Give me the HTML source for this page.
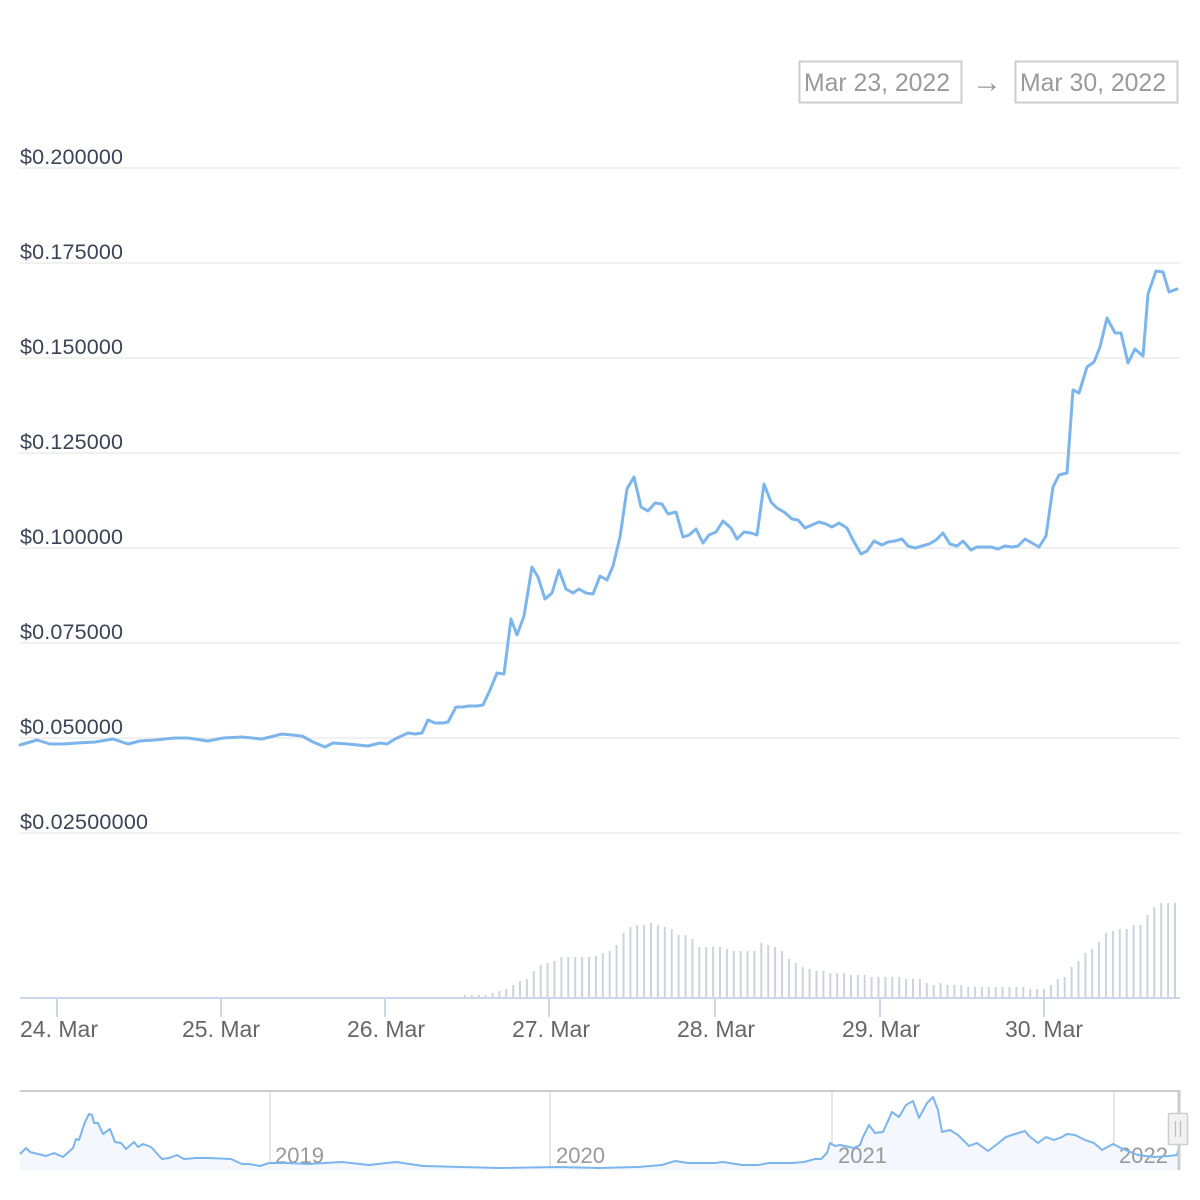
<!DOCTYPE html>
<html><head><meta charset="utf-8"><style>
html,body{margin:0;padding:0;background:#fff;}
svg{display:block;}
text{font-family:"Liberation Sans",sans-serif;}
</style></head><body>
<svg width="1200" height="1200" viewBox="0 0 1200 1200" xmlns="http://www.w3.org/2000/svg">
<rect width="1200" height="1200" fill="#fff"/>
<!-- date range boxes -->
<rect x="799.5" y="61.5" width="162" height="41" fill="#fff" stroke="#cccccc" stroke-width="2"/>
<text x="804" y="91" font-size="25" fill="#999" textLength="146" lengthAdjust="spacingAndGlyphs">Mar 23, 2022</text>
<text x="987" y="92" font-size="30" fill="#999" text-anchor="middle">→</text>
<rect x="1015.5" y="61.5" width="162" height="41" fill="#fff" stroke="#cccccc" stroke-width="2"/>
<text x="1020" y="91" font-size="25" fill="#999" textLength="146" lengthAdjust="spacingAndGlyphs">Mar 30, 2022</text>

<!-- gridlines -->
<g stroke="#f0f0f0" stroke-width="2">
<line x1="20" x2="1180" y1="168" y2="168"/>
<line x1="20" x2="1180" y1="263" y2="263"/>
<line x1="20" x2="1180" y1="358" y2="358"/>
<line x1="20" x2="1180" y1="453" y2="453"/>
<line x1="20" x2="1180" y1="548" y2="548"/>
<line x1="20" x2="1180" y1="643" y2="643"/>
<line x1="20" x2="1180" y1="738" y2="738"/>
<line x1="20" x2="1180" y1="833" y2="833"/>
</g>
<g font-size="21.5" fill="#3a4456" lengthAdjust="spacingAndGlyphs">
<text x="20" y="164" textLength="103">$0.200000</text>
<text x="20" y="259" textLength="103">$0.175000</text>
<text x="20" y="354" textLength="103">$0.150000</text>
<text x="20" y="449" textLength="103">$0.125000</text>
<text x="20" y="544" textLength="103">$0.100000</text>
<text x="20" y="639" textLength="103">$0.075000</text>
<text x="20" y="734" textLength="103">$0.050000</text>
<text x="20" y="829" textLength="128">$0.02500000</text>
</g>

<!-- volume bars -->
<path stroke="#cdd2dc" stroke-width="2" fill="none" d="
M458.0 997V998 M464.9 995V998 M471.8 995V998 M478.7 995V998 M485.6 995V998 M492.5 993V998 M499.4 991V998 M506.3 989V998 M513.2 985V998 M520.0 981V998
M526.9 979V998 M533.8 971V998 M540.7 965V998 M547.6 963V998 M554.5 961V998 M561.4 957V998 M568.3 957V998 M575.2 957V998 M582.1 957V998 M589.0 957V998
M595.9 956V998 M602.8 953V998 M609.7 951V998 M616.6 945V998 M623.5 933V998 M630.4 927V998 M637.2 925V998 M644.1 925V998 M651.0 923V998 M657.9 925V998
M664.8 927V998 M671.7 929V998 M678.6 935V998 M685.5 935V998 M692.4 939V998 M699.3 947V998 M706.2 947V998 M713.1 947V998 M720.0 947V998 M726.9 949V998
M733.8 951V998 M740.7 951V998 M747.5 951V998 M754.4 951V998 M761.3 943V998 M768.2 945V998 M775.1 947V998 M782.0 951V998 M788.9 959V998 M795.8 963V998
M802.7 967V998 M809.6 969V998 M816.5 971V998 M823.4 971V998 M830.3 973V998 M837.2 973V998 M844.1 973V998 M851.0 975V998 M857.9 975V998 M864.7 975V998
M871.6 977V998 M878.5 977V998 M885.4 977V998 M892.3 977V998 M899.2 977V998 M906.1 979V998 M913.0 979V998 M919.9 979V998 M926.8 983V998 M933.7 985V998
M940.6 983V998 M947.5 985V998 M954.4 985V998 M961.3 985V998 M968.2 987V998 M975.1 987V998 M981.9 987V998 M988.8 987V998 M995.7 987V998 M1002.6 987V998
M1009.5 987V998 M1016.4 987V998 M1023.3 987V998 M1030.2 989V998 M1037.1 989V998 M1044.0 989V998 M1050.9 985V998 M1057.8 979V998 M1064.7 977V998 M1071.6 967V998
M1078.5 961V998 M1085.4 953V998 M1092.2 949V998 M1099.1 942V998 M1106.0 933V998 M1112.9 931V998 M1119.8 929V998 M1126.7 929V998 M1133.6 925V998 M1140.5 925V998
M1147.4 915V998 M1154.3 907V998 M1161.2 903V998 M1168.1 903V998 M1175.0 903V998"/>

<!-- x axis -->
<line x1="20" x2="1180" y1="998" y2="998" stroke="#ccd6eb" stroke-width="2"/>
<g stroke="#ccd6eb" stroke-width="2">
<line x1="57" x2="57" y1="998" y2="1017"/>
<line x1="221" x2="221" y1="998" y2="1017"/>
<line x1="385" x2="385" y1="998" y2="1017"/>
<line x1="549" x2="549" y1="998" y2="1017"/>
<line x1="715" x2="715" y1="998" y2="1017"/>
<line x1="880" x2="880" y1="998" y2="1017"/>
<line x1="1044" x2="1044" y1="998" y2="1017"/>
</g>
<g font-size="23" fill="#666" text-anchor="middle">
<text x="59" y="1037">24. Mar</text>
<text x="221" y="1037">25. Mar</text>
<text x="386" y="1037">26. Mar</text>
<text x="551" y="1037">27. Mar</text>
<text x="716" y="1037">28. Mar</text>
<text x="881" y="1037">29. Mar</text>
<text x="1044" y="1037">30. Mar</text>
</g>

<!-- price line -->
<polyline fill="none" stroke="#7cb5ec" stroke-width="3" stroke-linejoin="round" stroke-linecap="round" points="
20,745 37,740 50,744 63,744 77,743 95,742 113,739 128,744 140,741 155,740 175,738 188,738 208,741 223,738 242,737 262,739 282,734 302,736 313,742 325,747 333,743 348,744 368,746 380,743 387,744 395,739 408,733 415,734 422,733 428,720 435,723 443,723 448,722 456,707 463,707 469,706 477,706 483,705 490,690 497,673 504,674 511,619 517,635 524,616 532,567 538,577 545,599 552,593 559,570 566,589 573,593 579,589 586,593 593,594 600,576 607,580 613,566 620,537 627,489 634,477 641,507 648,511 655,503 662,504 668,514 676,512 683,537 689,535 696,529 703,543 709,535 716,532 723,521 731,528 737,539 744,532 751,533 757,535 764,484 771,502 777,508 784,512 792,519 798,520 805,528 812,525 819,522 826,524 832,527 839,523 847,528 853,540 861,554 867,551 874,541 882,545 888,542 895,541 902,539 908,546 915,548 922,546 929,544 936,540 943,533 950,544 957,546 963,541 971,550 977,547 984,547 991,547 998,549 1005,546 1012,547 1018,546 1025,539 1032,543 1039,547 1046,536 1053,487 1059,475 1067,473 1073,390 1079,393 1087,367 1094,362 1100,347 1107,318 1115,333 1121,333 1128,363 1135,349 1143,356 1148,294 1156,271 1163,272 1169,292 1177,289"/>

<!-- navigator -->
<g stroke="#e6e6e6" stroke-width="2">
<line x1="270" x2="270" y1="1091" y2="1170"/>
<line x1="550" x2="550" y1="1091" y2="1170"/>
<line x1="832" x2="832" y1="1091" y2="1170"/>
<line x1="1114" x2="1114" y1="1091" y2="1170"/>
</g>
<polygon fill="#f4f8fe" stroke="none" points="20,1170 20,1154 26,1148 30,1152 38,1154 46,1156 54,1153 63,1157 73,1148 76,1139 79,1140 85,1122 89,1114 92,1115 94,1123 98,1123 103,1134 110,1129 115,1142 121,1143 126,1149 134,1142 138,1147 143,1144 151,1147 162,1159 169,1158 177,1155 184,1159 196,1158 208,1158 231,1159 242,1164 249,1164 260,1166 269,1163 288,1163 308,1164 342,1162 369,1165 396,1162 423,1166 462,1167 500,1168 558,1167 600,1168 638,1167 662,1165 675,1161 688,1163 715,1163 723,1162 742,1165 758,1165 769,1163 792,1163 804,1162 815,1159 821,1159 827,1153 830,1143 835,1146 840,1145 854,1148 860,1145 863,1137 869,1125 875,1133 883,1132 892,1112 899,1117 906,1105 913,1101 919,1118 927,1103 933,1097 938,1110 942,1132 950,1130 958,1135 969,1146 977,1143 988,1151 996,1145 1006,1137 1015,1134 1025,1131 1029,1136 1038,1143 1046,1137 1054,1140 1062,1137 1067,1134 1075,1135 1085,1140 1094,1143 1102,1150 1113,1144 1123,1149 1138,1155 1154,1157 1169,1156 1177,1155 1179,1147 1179,1170"/>
<g font-size="22" fill="#999">
<text x="275" y="1163">2019</text>
<text x="556" y="1163">2020</text>
<text x="838" y="1163">2021</text>
<text x="1119" y="1163">2022</text>
</g>
<polyline fill="none" stroke="#7cb5ec" stroke-width="2" stroke-linejoin="round" points="20,1154 26,1148 30,1152 38,1154 46,1156 54,1153 63,1157 73,1148 76,1139 79,1140 85,1122 89,1114 92,1115 94,1123 98,1123 103,1134 110,1129 115,1142 121,1143 126,1149 134,1142 138,1147 143,1144 151,1147 162,1159 169,1158 177,1155 184,1159 196,1158 208,1158 231,1159 242,1164 249,1164 260,1166 269,1163 288,1163 308,1164 342,1162 369,1165 396,1162 423,1166 462,1167 500,1168 558,1167 600,1168 638,1167 662,1165 675,1161 688,1163 715,1163 723,1162 742,1165 758,1165 769,1163 792,1163 804,1162 815,1159 821,1159 827,1153 830,1143 835,1146 840,1145 854,1148 860,1145 863,1137 869,1125 875,1133 883,1132 892,1112 899,1117 906,1105 913,1101 919,1118 927,1103 933,1097 938,1110 942,1132 950,1130 958,1135 969,1146 977,1143 988,1151 996,1145 1006,1137 1015,1134 1025,1131 1029,1136 1038,1143 1046,1137 1054,1140 1062,1137 1067,1134 1075,1135 1085,1140 1094,1143 1102,1150 1113,1144 1123,1149 1138,1155 1154,1157 1169,1156 1177,1155 1179,1147"/>
<line x1="20" x2="1180" y1="1091" y2="1091" stroke="#cccccc" stroke-width="2"/>
<line x1="1179" x2="1179" y1="1090" y2="1170" stroke="#cccccc" stroke-width="3"/>
<rect x="1168.5" y="1113.5" width="19" height="31" rx="1" fill="#f2f2f2" stroke="#cccccc" stroke-width="1.5"/>
<line x1="1175.5" x2="1175.5" y1="1121" y2="1137" stroke="#bbbbbb" stroke-width="1.2"/>
<line x1="1180.5" x2="1180.5" y1="1121" y2="1137" stroke="#bbbbbb" stroke-width="1.2"/>
</svg>
</body></html>
